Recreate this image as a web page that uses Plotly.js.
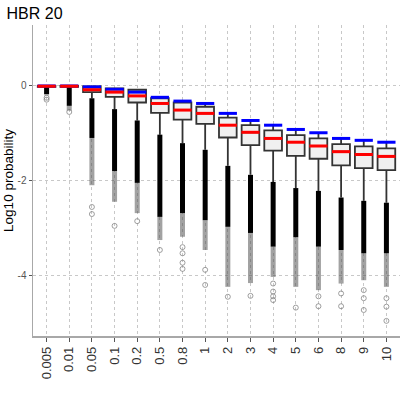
<!DOCTYPE html>
<html>
<head>
<meta charset="utf-8">
<script src="https://cdn.plot.ly/plotly-3.0.1.min.js"></script>
<style>
  html, body { margin: 0; padding: 0; background: #fff; }
  #chart { width: 407px; height: 395px; }
</style>
</head>
<body>
<div id="chart"></div>
<script>
// categories (x axis)
var cats = ['0.005', '0.01', '0.05', '0.1', '0.2', '0.5', '0.8', '1', '2', '3', '4', '5', '6', '8', '9', '10'];

// box statistics, log10 probability
var topVal   = [0, 0, -0.02, -0.07, -0.13, -0.24, -0.32, -0.37, -0.58, -0.73, -0.83, -0.92, -0.99, -1.11, -1.15, -1.19];
var q3       = [0, 0, -0.01, -0.05, -0.08, -0.26, -0.35, -0.44, -0.67, -0.83, -0.94, -1.04, -1.11, -1.23, -1.28, -1.32];
var medians  = [-0.005, -0.005, -0.08, -0.13, -0.21, -0.37, -0.51, -0.58, -0.83, -0.98, -1.11, -1.19, -1.27, -1.39, -1.45, -1.49];
var q1       = [-0.02, -0.02, -0.13, -0.23, -0.35, -0.57, -0.71, -0.80, -1.09, -1.25, -1.37, -1.48, -1.54, -1.68, -1.74, -1.78];
var lowFence = [-0.03, -0.03, -0.26, -0.49, -0.73, -1.03, -1.21, -1.35, -1.69, -1.88, -2.03, -2.16, -2.22, -2.36, -2.43, -2.47];

// outliers: where the solid black stack ends, where the grey stack ends, and the loose ones
var denseEnd = [-0.17, -0.42, -1.1, -1.8, -2.05, -2.77, -2.69, -2.84, -2.98, -3.11, -3.4, -3.2, -3.4, -3.47, -3.54, -3.54];
var greyEnd  = [-0.2, -0.52, -2.1, -2.45, -2.69, -3.26, -3.19, -3.47, -4.25, -4.17, -4.04, -4.25, -4.32, -4.18, -4.11, -4.25];
var sparse = [
  [-0.25, -0.29],
  [-0.55],
  [-2.56, -2.71],
  [-2.96],
  [-2.86],
  [-3.47],
  [-3.41, -3.54, -3.74, -3.87],
  [-3.89, -4.21],
  [-4.46],
  [-4.44],
  [-4.18, -4.35, -4.45, -4.53],
  [-4.69],
  [-4.45, -4.66],
  [-4.39, -4.66],
  [-4.32, -4.49, -4.74],
  [-4.49, -4.67, -4.97]
];

// vertical segments for the stacked outliers
function segs(from, to) {
  var xs = [], ys = [];
  cats.forEach(function (c, i) {
    xs.push(c, c, null);
    ys.push(from[i], to[i], null);
  });
  return {x: xs, y: ys};
}
var black = segs(lowFence, denseEnd);
var grey = segs(denseEnd, greyEnd);

var sx = [], sy = [];
sparse.forEach(function (arr, i) {
  arr.forEach(function (v) { sx.push(cats[i]); sy.push(v); });
});

var data = [
  {
    x: grey.x, y: grey.y, type: 'scatter', mode: 'lines',
    line: {color: 'rgba(70,70,70,0.5)', width: 5},
    hoverinfo: 'skip', showlegend: false
  },
  {
    x: black.x, y: black.y, type: 'scatter', mode: 'lines',
    line: {color: '#000', width: 5},
    hoverinfo: 'skip', showlegend: false
  },
  {
    x: sx, y: sy, type: 'scatter', mode: 'markers',
    marker: {symbol: 'circle-open', size: 5, color: 'rgba(120,120,120,0.7)', line: {width: 1}},
    hoverinfo: 'skip', showlegend: false
  },
  {
    type: 'box', x: cats,
    q1: q1, median: medians, q3: q3,
    lowerfence: lowFence, upperfence: topVal,
    boxpoints: false, width: 0.78, whiskerwidth: 0,
    fillcolor: '#f0f0f0',
    line: {color: '#333', width: 1.8},
    hoverinfo: 'skip', showlegend: false
  },
  {
    x: cats, y: topVal, type: 'scatter', mode: 'markers',
    marker: {symbol: 'line-ew', size: 13, line: {color: '#0000ff', width: 3}},
    hoverinfo: 'skip', showlegend: false
  },
  {
    x: cats, y: medians, type: 'scatter', mode: 'markers',
    marker: {symbol: 'line-ew', size: 13, line: {color: '#ff0000', width: 3}},
    hoverinfo: 'skip', showlegend: false
  }
];

var layout = {
  width: 407,
  height: 395,
  margin: {l: 33, r: 7, t: 25, b: 59},
  paper_bgcolor: '#fff',
  plot_bgcolor: '#fff',
  font: {family: 'Liberation Sans, Arial, sans-serif', color: '#000'},
  title: {
    text: 'HBR 20',
    font: {size: 16, color: '#000'},
    xref: 'container', x: 0.016, xanchor: 'left',
    yref: 'container', y: 0.966, yanchor: 'middle'
  },
  showlegend: false,
  xaxis: {
    type: 'category',
    range: [-0.6, 15.6],
    tickangle: -90,
    tickfont: {size: 13, color: '#333'},
    showline: true, linecolor: '#a8a8a8', linewidth: 1.5,
    ticks: 'outside', ticklen: 4, tickcolor: '#555', tickwidth: 1,
    showgrid: true, gridcolor: '#c8c8c8', griddash: 'dot', gridwidth: 1,
    zeroline: false, fixedrange: true
  },
  yaxis: {
    range: [-5.29, 1.29],
    tickvals: [0, -2, -4],
    ticktext: ['0', '-2', '-4'],
    tickfont: {size: 10, color: '#555'},
    showline: true, linecolor: '#a8a8a8', linewidth: 1.5,
    ticks: 'outside', ticklen: 3, tickcolor: '#555', tickwidth: 1,
    showgrid: true, gridcolor: '#c8c8c8', griddash: 'dot', gridwidth: 1,
    zeroline: false, fixedrange: true,
    title: {text: 'Log10 probability', font: {size: 13.5, color: '#000'}, standoff: 1}
  }
};

Plotly.newPlot('chart', data, layout, {displayModeBar: false, staticPlot: true});
</script>
</body>
</html>
